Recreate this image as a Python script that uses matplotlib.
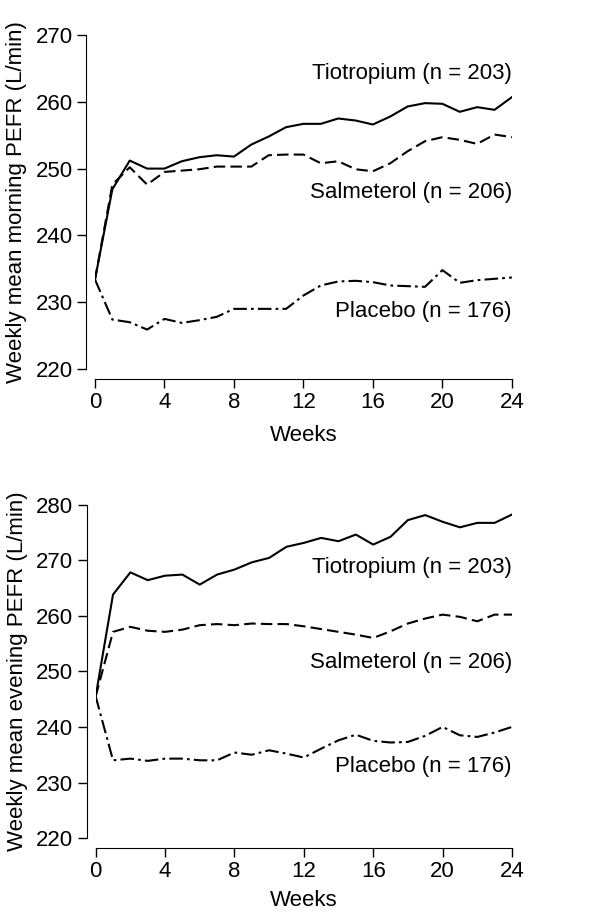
import matplotlib
matplotlib.use("Agg")
import matplotlib.pyplot as plt

weeks = list(range(25))

morning_tiotropium = [233.4, 246.9, 251.2, 250.0, 250.0, 251.1, 251.7, 252.0, 251.8,
                      253.6, 254.8, 256.2, 256.7, 256.7, 257.5, 257.2, 256.6, 257.8,
                      259.3, 259.8, 259.7, 258.5, 259.2, 258.8, 260.7]
morning_salmeterol = [233.4, 247.6, 250.2, 247.6, 249.5, 249.7, 249.9, 250.3, 250.3,
                      250.3, 252.0, 252.1, 252.1, 250.8, 251.1, 249.9, 249.6, 250.8,
                      252.6, 254.1, 254.7, 254.3, 253.7, 255.1, 254.7]
morning_placebo = [233.4, 227.4, 227.0, 225.9, 227.5, 226.9, 227.3, 227.8, 229.0,
                   229.0, 229.0, 229.0, 231.0, 232.5, 233.1, 233.2, 233.0, 232.5,
                   232.4, 232.3, 234.8, 232.9, 233.3, 233.5, 233.7]

evening_tiotropium = [245.5, 263.8, 267.8, 266.4, 267.2, 267.4, 265.6, 267.4, 268.3,
                      269.6, 270.4, 272.4, 273.1, 274.0, 273.4, 274.6, 272.8, 274.2,
                      277.2, 278.1, 276.9, 275.9, 276.7, 276.7, 278.2]
evening_salmeterol = [245.5, 257.1, 258.0, 257.3, 257.1, 257.5, 258.3, 258.5, 258.3,
                      258.6, 258.5, 258.5, 258.1, 257.6, 257.1, 256.6, 256.0, 257.2,
                      258.6, 259.5, 260.2, 259.8, 259.0, 260.2, 260.2]
evening_placebo = [245.5, 234.0, 234.3, 233.9, 234.3, 234.3, 234.0, 234.0, 235.4,
                   235.0, 235.8, 235.2, 234.5, 236.1, 237.6, 238.6, 237.5, 237.2,
                   237.3, 238.4, 240.0, 238.5, 238.2, 239.0, 240.0]

labels = ["Tiotropium (n = 203)", "Salmeterol (n = 206)", "Placebo (n = 176)"]
morning_label_y = [264.3, 246.4, 228.6]
evening_label_y = [268.7, 251.6, 232.8]

plt.rcParams["font.family"] = ["Liberation Sans", "DejaVu Sans"]
plt.rcParams["font.size"] = 16

styles = [
    dict(linestyle="-"),
    dict(linestyle=(0, (5.5, 2.5))),
    dict(linestyle=(0, (6.5, 2, 1.3, 2))),
]


def draw_panel(ax, series, label_y, ylim, yticks, ylabel, xpad):
    for vals, st in zip(series, styles):
        ax.plot(weeks, vals, color="black", linewidth=1.5, **st)
    for text, y in zip(labels, label_y):
        ax.text(24, y, text, ha="right", va="center", fontsize=16)
    ax.set_xlim(0, 24)
    ax.set_ylim(*ylim)
    ax.set_xticks(range(0, 25, 4))
    ax.set_yticks(yticks)
    ax.spines["top"].set_visible(False)
    ax.spines["right"].set_visible(False)
    ax.spines["left"].set_position(("outward", 6.5))
    ax.spines["bottom"].set_position(("outward", 7))
    ax.tick_params(direction="out", length=6.5, width=1, labelsize=16, pad=3)
    ax.set_xlabel("Weeks", fontsize=16, labelpad=xpad)
    ax.set_ylabel(ylabel, fontsize=16, labelpad=6)


fig = plt.figure(figsize=(6.14, 9.14), dpi=100)
ax1 = fig.add_axes([0.1547, 0.5963, 0.679, 0.3654])
ax2 = fig.add_axes([0.1558, 0.0830, 0.678, 0.3650])

draw_panel(ax1, [morning_tiotropium, morning_salmeterol, morning_placebo],
           morning_label_y, (220, 270), range(220, 271, 10),
           "Weekly mean morning PEFR (L/min)", 9)
draw_panel(ax2, [evening_tiotropium, evening_salmeterol, evening_placebo],
           evening_label_y, (220, 280), range(220, 281, 10),
           "Weekly mean evening PEFR (L/min)", 6)

fig.savefig("out.png", dpi=100)
